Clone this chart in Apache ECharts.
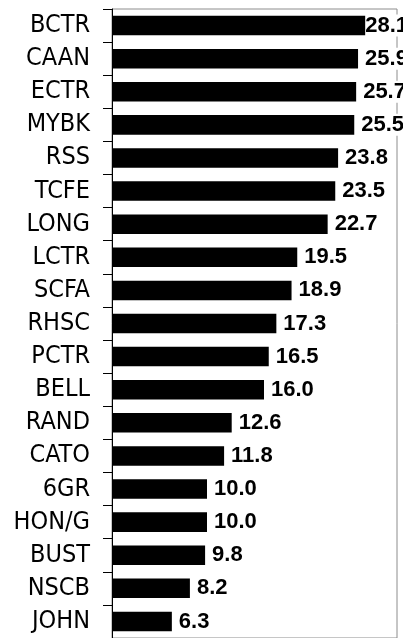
<!DOCTYPE html>
<html>
<head>
<meta charset="utf-8">
<style>
html,body{margin:0;padding:0;background:#fff;}
#chart{width:403px;height:638px;}
</style>
<script src="https://cdn.jsdelivr.net/npm/echarts@6/dist/echarts.min.js"></script>
</head>
<body>
<div id="chart"></div>
<script>
var categories = ["BCTR","CAAN","ECTR","MYBK","RSS","TCFE","LONG","LCTR","SCFA","RHSC","PCTR","BELL","RAND","CATO","6GR","HON/G","BUST","NSCB","JOHN"];
var values = [28.1,25.9,25.7,25.5,23.8,23.5,22.7,19.5,18.9,17.3,16.5,16.0,12.6,11.8,10.0,10.0,9.8,8.2,6.3];

var W = 403;
var chart = echarts.init(document.getElementById('chart'), null, {renderer:'canvas'});
chart.setOption({
  animation:false,
  backgroundColor:'#fff',
  grid:{left:112, top:9, width:285, height:634, show:true, borderColor:'#8c8c8c', borderWidth:1, backgroundColor:'#fff', containLabel:false},
  xAxis:{type:'value', min:0, max:30, show:false, splitLine:{show:false}},
  yAxis:{
    type:'category', data:categories, inverse:true,
    axisLine:{show:true, lineStyle:{color:'#000', width:1}},
    axisTick:{show:true, length:9, lineStyle:{color:'#000', width:1}},
    axisLabel:{margin:22, color:'#000', fontFamily:'DejaVu Sans Condensed', fontSize:25}
  },
  series:[{
    type:'bar', data:values, barCategoryGap:'41%',
    itemStyle:{color:'#000'},
    label:{show:true, position:'right', distance:7, color:'#000', fontFamily:'Liberation Sans', fontWeight:'bold', fontSize:22,
      backgroundColor:'#fff', formatter:function(p){return p.value.toFixed(1);}},
    labelLayout:function(params){
      var r = params.labelRect;
      if (r.x + r.width > W + 5) {
        return {x: W - r.width + 5, y: r.y, align:'left', verticalAlign:'top'};
      }
      return {};
    }
  }]
});
</script>
</body>
</html>
